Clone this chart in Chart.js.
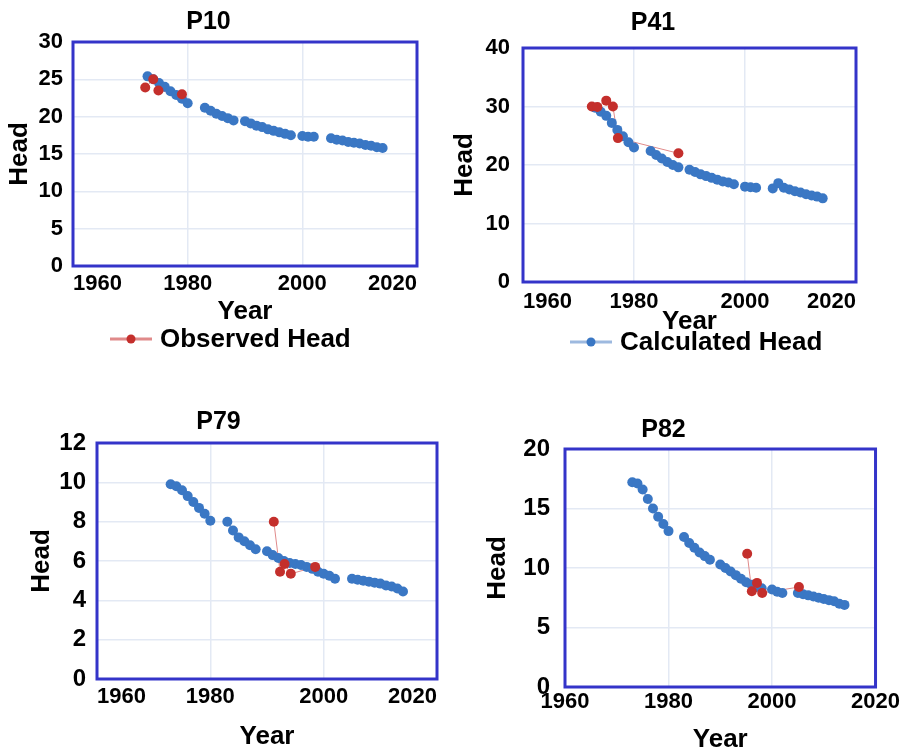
<!DOCTYPE html>
<html>
<head>
<meta charset="utf-8">
<title>Observed and calculated head</title>
<script src="https://cdn.jsdelivr.net/npm/chart.js@4.4.1/dist/chart.umd.min.js"></script>
<style>
    body { margin: 0; background: #fff; }
    #page { position: relative; width: 904px; height: 753px; overflow: hidden; }
    canvas { position: absolute; }
</style>
</head>
<body>
<div id="page">
    <canvas id="p10" width="450" height="370" style="left:0;top:0"></canvas>
    <canvas id="p41" width="454" height="370" style="left:450px;top:0"></canvas>
    <canvas id="p79" width="450" height="368" style="left:0;top:385px"></canvas>
    <canvas id="p82" width="454" height="368" style="left:450px;top:385px"></canvas>
</div>
<script>
// Tick labels
const yearTicks = [1960, 1980, 2000, 2020];
const p10HeadTicks = [0, 5, 10, 15, 20, 25, 30];
const p41HeadTicks = [0, 10, 20, 30, 40];
const p79HeadTicks = [0, 2, 4, 6, 8, 10, 12];
const p82HeadTicks = [0, 5, 10, 15, 20];

// Calculated head, one value per year (null = no value plotted)
const calcYears = [1973, 1974, 1975, 1976, 1977, 1978, 1979, 1980, 1981, 1982,
    1983, 1984, 1985, 1986, 1987, 1988, 1989, 1990, 1991, 1992,
    1993, 1994, 1995, 1996, 1997, 1998, 1999, 2000, 2001, 2002,
    2003, 2004, 2005, 2006, 2007, 2008, 2009, 2010, 2011, 2012,
    2013, 2014];
const p10Calc = [25.4, 25.0, 24.5, 24.0, 23.4, 22.9, 22.4, 21.8, null, null,
    21.2, 20.8, 20.4, 20.1, 19.8, 19.5, null, 19.4, 19.1, 18.8,
    18.6, 18.3, 18.1, 17.9, 17.7, 17.5, null, 17.4, 17.3, 17.3,
    null, null, 17.1, 16.9, 16.8, 16.6, 16.5, 16.4, 16.2, 16.1,
    15.9, 15.8];
const p41Calc = [29.8, 29.1, 28.4, 27.2, 26.0, 24.9, 23.9, 23.0, null, null,
    22.4, 21.7, 21.1, 20.5, 20.0, 19.6, null, 19.2, 18.8, 18.4,
    18.1, 17.8, 17.5, 17.2, 17.0, 16.7, null, 16.3, 16.2, 16.1,
    null, null, 16.0, 16.9, 16.1, 15.8, 15.5, 15.3, 15.0, 14.8,
    14.6, 14.3];
const p79Calc = [9.9, 9.8, 9.6, 9.3, 9.0, 8.7, 8.4, 8.05, null, null,
    8.0, 7.55, 7.2, 7.0, 6.8, 6.6, null, 6.5, 6.3, 6.15,
    6.0, 5.9, 5.85, 5.8, 5.7, 5.6, 5.45, 5.35, 5.25, 5.1,
    null, null, 5.1, 5.05, 5.0, 4.95, 4.9, 4.85, 4.75, 4.7,
    4.6, 4.45];
const p82Calc = [17.2, 17.1, 16.6, 15.8, 15.0, 14.3, 13.7, 13.1, null, null,
    12.6, 12.1, 11.7, 11.3, 11.0, 10.7, null, 10.3, 10.0, 9.7,
    9.4, 9.1, 8.8, 8.6, 8.4, 8.3, null, 8.2, 8.0, 7.9,
    null, null, 7.9, 7.8, 7.7, 7.6, 7.5, 7.4, 7.3, 7.2,
    7.0, 6.9];

// Observed head
const p10ObsYears = [1972.6, 1974.0, 1974.9, 1979.0];
const p10ObsHead = [23.9, 25.0, 23.5, 23.0];
const p41ObsYears = [1972.4, 1973.4, 1975.0, 1976.2, 1977.1, 1988.0];
const p41ObsHead = [30.0, 29.9, 31.0, 30.0, 24.6, 22.0];
const p79ObsYears = [1991.2, 1992.3, 1993.1, 1994.2, 1998.5];
const p79ObsHead = [8.0, 5.45, 5.85, 5.35, 5.7];
const p82ObsYears = [1995.2, 1996.1, 1997.1, 1998.1, 2005.2];
const p82ObsHead = [11.2, 8.05, 8.75, 7.9, 8.4];

const FONT = '"Liberation Sans", Arial, sans-serif';
const obsDot = '#c42f2c';
const obsLine = '#e08a8a';
const calcDot = '#3a77c4';
const calcLine = '#9db9df';
const frameColor = '#3434c9';
const gridColor = '#e3e9f4';

Chart.defaults.font.family = FONT;
Chart.defaults.color = '#000';

// blue box round the plot area
const plotFrame = {
    id: 'plotFrame',
    beforeDatasetsDraw(chart) {
        const { ctx, chartArea: a } = chart;
        ctx.save();
        ctx.strokeStyle = frameColor;
        ctx.lineWidth = 3;
        ctx.strokeRect(a.left, a.top, a.right - a.left, a.bottom - a.top);
        ctx.restore();
    }
};

// legend entry drawn as a short line with a dot, placed under the chart
const seriesKey = {
    id: 'seriesKey',
    afterDraw(chart, args, opts) {
        if (opts.index === undefined) return;
        const ds = chart.data.datasets[opts.index];
        const ctx = chart.ctx;
        ctx.save();
        ctx.strokeStyle = opts.line;
        ctx.lineWidth = 3;
        ctx.beginPath();
        ctx.moveTo(opts.x, opts.y);
        ctx.lineTo(opts.x + 42, opts.y);
        ctx.stroke();
        ctx.fillStyle = ds.pointBackgroundColor;
        ctx.beginPath();
        ctx.arc(opts.x + 21, opts.y, 4.5, 0, Math.PI * 2);
        ctx.fill();
        ctx.fillStyle = '#000';
        ctx.font = `bold 26px ${FONT}`;
        ctx.textBaseline = 'middle';
        ctx.fillText(ds.label, opts.x + 50, opts.y + 1);
        ctx.restore();
    }
};

function pairs(xs, ys) {
    return xs.map((x, i) => ({ x, y: ys[i] }));
}

// Lines go under all markers and red markers sit on top, as in the source plot
function makeChart(id, p) {
    const obs = pairs(p.obsYears, p.obsHead);
    return new Chart(document.getElementById(id), {
        type: 'line',
        data: {
            datasets: [
                {
                    label: 'Observed Head',
                    data: obs,
                    showLine: false,
                    pointBackgroundColor: obsDot,
                    pointBorderColor: obsDot,
                    pointRadius: 5,
                    pointBorderWidth: 0,
                    order: 1
                },
                {
                    label: 'Calculated Head',
                    data: pairs(calcYears, p.calc),
                    borderColor: calcLine,
                    borderWidth: 2,
                    pointBackgroundColor: calcDot,
                    pointBorderColor: calcDot,
                    pointRadius: 5,
                    pointBorderWidth: 0,
                    order: 2
                },
                {
                    label: 'Observed Head',
                    data: obs,
                    borderColor: obsLine,
                    borderWidth: 1,
                    pointRadius: 0,
                    order: 3
                }
            ]
        },
        options: {
            responsive: false,
            animation: false,
            events: [],
            layout: { padding: { left: 0, top: 0, right: p.padRight, bottom: p.padBottom } },
            plugins: {
                legend: { display: false },
                tooltip: { enabled: false },
                title: {
                    display: true,
                    text: p.title,
                    color: '#000',
                    font: { size: 25, weight: 'bold', lineHeight: 1 },
                    padding: { top: p.titleTop, bottom: p.titleBottom }
                },
                seriesKey: p.key || {}
            },
            scales: {
                x: {
                    type: 'linear',
                    min: 1960,
                    max: 2020,
                    afterBuildTicks: s => { s.ticks = yearTicks.map(v => ({ value: v })); },
                    afterFit: s => { s.height = p.xHeight; },
                    ticks: {
                        align: p.xAlign,
                        maxRotation: 0,
                        padding: p.xTickPad,
                        font: { size: 22, weight: 'bold', lineHeight: 1 },
                        callback: v => String(v)
                    },
                    grid: { color: gridColor, lineWidth: 1.5, drawTicks: false },
                    border: { display: false },
                    title: {
                        display: true,
                        text: 'Year',
                        font: { size: 26, weight: 'bold', lineHeight: 1 },
                        padding: { top: 0, bottom: 0 }
                    }
                },
                y: {
                    min: p.yTicks[0],
                    max: p.yTicks[p.yTicks.length - 1],
                    afterBuildTicks: s => { s.ticks = p.yTicks.map(v => ({ value: v })); },
                    afterFit: s => { s.width = p.yWidth; },
                    ticks: {
                        padding: p.yTickPad,
                        font: { size: p.yTickSize, weight: 'bold', lineHeight: 1 }
                    },
                    grid: { color: gridColor, lineWidth: 1.5, drawTicks: false },
                    border: { display: false },
                    title: {
                        display: true,
                        text: 'Head',
                        font: { size: 26, weight: 'bold', lineHeight: 1 },
                        padding: { top: p.yTitlePad, bottom: 0 }
                    }
                }
            }
        },
        plugins: [plotFrame, seriesKey]
    });
}

makeChart('p10', {
    title: 'P10', calc: p10Calc, obsYears: p10ObsYears, obsHead: p10ObsHead, yTicks: p10HeadTicks,
    titleTop: 10, titleBottom: 7, padRight: 33, padBottom: 45, xHeight: 59, yWidth: 73,
    xTickPad: 7, yTickPad: 10, yTickSize: 22, yTitlePad: 7, xAlign: 'inner',
    key: { index: 0, line: obsLine, x: 110, y: 339 }
});
makeChart('p41', {
    title: 'P41', calc: p41Calc, obsYears: p41ObsYears, obsHead: p41ObsHead, yTicks: p41HeadTicks,
    titleTop: 11, titleBottom: 12, padRight: 48, padBottom: 35, xHeight: 53, yWidth: 73,
    xTickPad: 9, yTickPad: 13, yTickSize: 22, yTitlePad: 2, xAlign: 'inner',
    key: { index: 1, line: calcLine, x: 120, y: 342 }
});
makeChart('p79', {
    title: 'P79', calc: p79Calc, obsYears: p79ObsYears, obsHead: p79ObsHead, yTicks: p79HeadTicks,
    titleTop: 25, titleBottom: 8, padRight: 13, padBottom: 3, xHeight: 71, yWidth: 97,
    xTickPad: 7, yTickPad: 11, yTickSize: 24, yTitlePad: 29, xAlign: 'inner'
});
makeChart('p82', {
    title: 'P82', calc: p82Calc, obsYears: p82ObsYears, obsHead: p82ObsHead, yTicks: p82HeadTicks,
    titleTop: 33, titleBottom: 6, padRight: 27, padBottom: 0, xHeight: 66, yWidth: 115,
    xTickPad: 4, yTickPad: 15, yTickSize: 24, yTitlePad: 35, xAlign: 'center'
});
</script>
</body>
</html>
